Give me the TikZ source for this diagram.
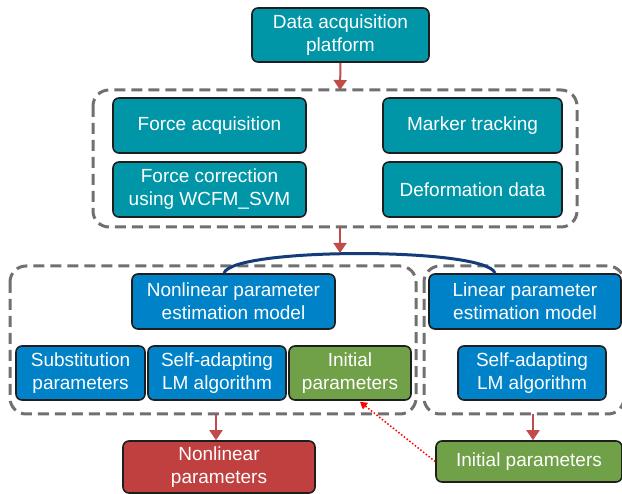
\documentclass[tikz,border=0pt]{standalone}
\usepackage{fontspec}
\setmainfont{Liberation Sans}
\usetikzlibrary{arrows.meta,calc}
\definecolor{teal1}{RGB}{0,150,167}
\definecolor{blue1}{RGB}{0,130,200}
\definecolor{green1}{RGB}{112,160,72}
\definecolor{red1}{RGB}{192,64,64}
\definecolor{gray1}{RGB}{112,112,112}
\definecolor{arrowred}{RGB}{192,75,72}
\definecolor{navy1}{RGB}{20,60,120}
\definecolor{edge1}{RGB}{30,30,30}
\tikzset{
  box/.style={draw=edge1,line width=1.6pt,rounded corners=6pt,text=white,align=center,
    inner sep=0pt,font=\fontsize{19}{23}\selectfont},
  tealbox/.style={box,fill=teal1},
  bluebox/.style={box,fill=blue1},
  greenbox/.style={box,fill=green1},
  redbox/.style={box,fill=red1},
  group/.style={draw=gray1,line width=3pt,dash pattern=on 11pt off 6pt,rounded corners=16pt},
  flow/.style={draw=arrowred,line width=2pt,-{Triangle[length=10pt,width=13pt]}},
}
\begin{document}
\begin{tikzpicture}[x=1pt,y=-1pt]
\useasboundingbox (0,0) rectangle (622,494);
% groups
\draw[group] (93,90) rectangle (577,227);
\draw[group] (10,266) rectangle (416,414);
\draw[group] (424,266) rectangle (624,414);
\coordinate (g1n) at (340,90);
\coordinate (g1s) at (340,227);
\coordinate (g2s) at (216,414);
\coordinate (g3s) at (533,414);
% nodes
\node[tealbox,minimum width=177pt,minimum height=54pt] (dap) at (340.5,35) {Data acquisition\\platform};
\node[tealbox,minimum width=193pt,minimum height=55pt] (fa) at (209.5,125.5) {Force acquisition};
\node[tealbox,minimum width=193pt,minimum height=55pt] (fc) at (209.5,189.5) {Force correction\\using WCFM\_SVM};
\node[tealbox,minimum width=179pt,minimum height=55pt] (mt) at (472.5,125.5) {Marker tracking};
\node[tealbox,minimum width=179pt,minimum height=55pt] (dd) at (472.5,189.5) {Deformation data};
\node[bluebox,minimum width=203pt,minimum height=55pt] (nl) at (233.5,301.5) {Nonlinear parameter\\estimation model};
\node[bluebox,minimum width=192pt,minimum height=55pt] (lin) at (525,301.5) {Linear parameter\\estimation model};
\node[bluebox,minimum width=129pt,minimum height=54pt] (sub) at (80.5,373) {Substitution\\parameters};
\node[bluebox,minimum width=138pt,minimum height=54pt] (sal) at (217,373) {Self-adapting\\LM algorithm};
\node[greenbox,minimum width=122pt,minimum height=54pt] (ip1) at (350,373) {Initial\\parameters};
\node[bluebox,minimum width=148pt,minimum height=54pt] (sar) at (532,373) {Self-adapting\\LM algorithm};
\node[redbox,minimum width=192pt,minimum height=52pt] (nlp) at (219,467) {Nonlinear\\parameters};
\node[greenbox,minimum width=186pt,minimum height=41pt] (ip2) at (529,461.5) {Initial parameters};
% arc
\coordinate (a1) at ($(nl.north)+(-9.5,0)$);
\coordinate (a2) at ($(lin.north)+(-30,0)$);
\coordinate (atop) at (340,253);
\draw[navy1,line width=3pt] (a1) .. controls (232,247) and (487,247) .. (a2);
% arrows
\draw[flow] (dap.south) -- (g1n);
\draw[flow] (g1s) -- (atop);
\draw[flow] (g2s) -- (g2s |- nlp.north);
\draw[flow] (g3s) -- (g3s |- ip2.north);
\draw[draw=red,line width=1.5pt,dotted,-{Triangle[length=7pt,width=8pt]}] (ip2.west) -- ($(ip1.south)+(10,1)$);
\end{tikzpicture}
\end{document}
